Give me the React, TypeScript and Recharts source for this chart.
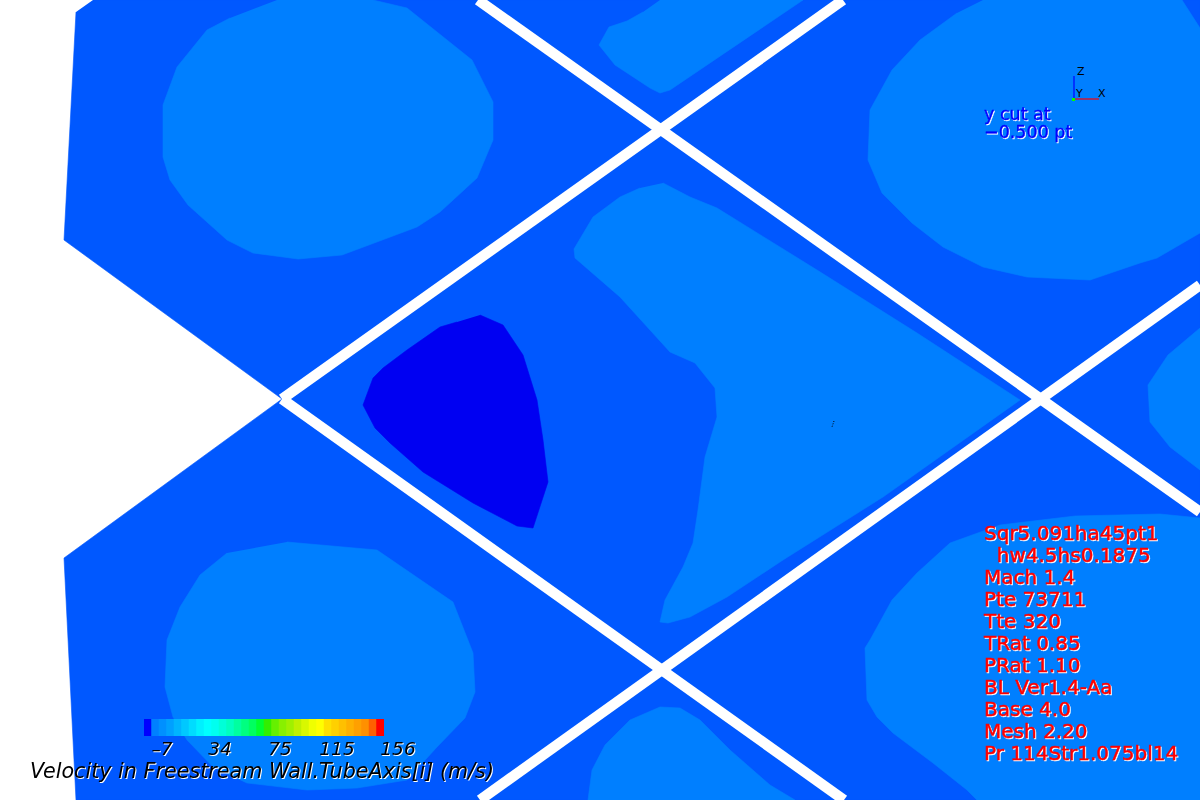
import React from 'react';
import { ScatterChart, Scatter, XAxis, YAxis, BarChart, Bar, Cell } from 'recharts';

// contour levels seen in this cut
const MAIN_BLUE = '#0058ff';
const LIGHT_BLUE = '#007fff';
const DEEP_BLUE = '#0000f2';

// region outlines, in picture units (x right, y down)
const DOMAIN = [[93, 0], [1200, 0], [1200, 800], [76, 800], [64, 558], [282, 399], [64, 240], [76, 12]];

const BLOB_TOP_LEFT = [[277, 0], [373, 0], [407, 8], [472, 60], [493, 102], [493, 140], [477, 178], [440, 212], [417, 227], [342, 255], [298, 259], [253, 253], [227, 240], [188, 205], [170, 180], [163, 157], [163, 105], [177, 67], [207, 30], [230, 18]];
const BLOB_TOP_MID = [[660, 0], [803, 0], [670, 90], [660, 93], [650, 88], [615, 65], [599, 45], [609, 27], [627, 21], [643, 12]];
const BLOB_TOP_RIGHT = [[983, 0], [1182, 0], [1200, 28], [1200, 233], [1157, 258], [1140, 263], [1090, 280], [1027, 277], [983, 267], [943, 247], [912, 223], [882, 193], [868, 160], [870, 110], [892, 70], [920, 40], [957, 13]];
const BLOB_CENTER = [[663, 183], [690, 197], [717, 208], [817, 270], [917, 333], [1020, 400], [883, 497], [783, 560], [727, 597], [690, 617], [668, 623], [660, 622], [665, 600], [683, 567], [693, 543], [698, 510], [705, 457], [717, 417], [715, 388], [695, 363], [670, 352], [620, 297], [575, 258], [574, 249], [593, 217], [620, 197], [640, 188]];
const BLOB_RIGHT = [[1200, 328], [1168, 355], [1148, 385], [1150, 422], [1170, 447], [1200, 470]];
const BLOB_BOTTOM_RIGHT = [[1200, 518], [1160, 514], [1075, 516], [1000, 525], [950, 543], [917, 573], [892, 600], [870, 640], [865, 648], [867, 700], [877, 717], [893, 733], [933, 763], [967, 790], [977, 800], [1200, 800]];
const BLOB_BOTTOM_LEFT = [[287, 542], [377, 550], [453, 602], [473, 653], [475, 692], [465, 718], [437, 747], [407, 780], [357, 788], [307, 790], [247, 783], [213, 767], [187, 740], [173, 717], [165, 687], [167, 640], [180, 607], [200, 575], [227, 553]];
const BLOB_BOTTOM_MID = [[588, 800], [592, 770], [605, 745], [630, 720], [660, 707], [680, 708], [700, 720], [730, 750], [770, 785], [795, 800]];
const BLOB_DEEP = [[480, 315], [503, 325], [523, 355], [537, 400], [543, 440], [548, 482], [533, 528], [517, 526], [473, 503], [423, 472], [390, 443], [375, 428], [363, 405], [373, 378], [383, 368], [407, 350], [440, 327], [457, 322]];

// tube walls (white gaps)
const WALLS = [
  [[478, 0], [1200, 512]],
  [[843, 0], [282, 399]],
  [[282, 399], [844, 800]],
  [[480, 800], [1200, 285]],
];

// axis triad
const TRIAD_Z = [[1074, 76], [1074, 99]];
const TRIAD_X = [[1074, 99], [1099, 99]];
const PROBE_MARK = [[834, 421], [832, 427]];

// legend
const COLORBAR = [
  '#0000ff', '#0080ff', '#0090ff', '#00a0ff', '#00b4ff', '#00c8ff', '#00dcff', '#00f0ff',
  '#00ffff', '#00fff0', '#00ffd8', '#00ffc0', '#00ffa0', '#00ff80', '#00ff60', '#00ff30',
  '#33ee00', '#66f000', '#88f000', '#a0f000', '#c0f000', '#d8f800', '#f0ff00', '#ffff00',
  '#ffe000', '#ffd000', '#ffc000', '#ffb000', '#ffa000', '#ff9000', '#ff6000', '#ff0000',
];
const COLORBAR_TICKS = ['\u20137', '34', '75', '115', '156'];
const COLORBAR_TICK_X = [162, 220, 280, 337, 398];

const CASE_LINES = [
  'Sqr5.091ha45pt1',
  '  hw4.5hs0.1875',
  'Mach 1.4',
  'Pte 73711',
  'Tte 320',
  'TRat 0.85',
  'PRat 1.10',
  'BL Ver1.4-Aa',
  'Base 4.0',
  'Mesh 2.20',
  'Pr 114Str1.075bl14',
];
const CUT_LINES = ['y cut at', '\u22120.500 pt'];
const TITLE = 'Velocity in Freestream Wall.TubeAxis[i] (m/s)';

const FONT = '"DejaVu Sans", sans-serif';
const HALO = 'drop-shadow(1px 1px 0 #ffffff)';

const pts = (a: number[][]) => a.map(([x, y]) => ({ x, y }));
const noDot = () => <g />;

const region = (key: string, data: number[][], fill: string) => (
  <Scatter
    key={key}
    data={pts(data)}
    line={{ fill, stroke: fill, strokeWidth: 0.6 }}
    lineType="joint"
    shape={noDot}
    isAnimationActive={false}
  />
);

const stroke = (key: string, data: number[][], color: string, width: number, dash?: string) => (
  <Scatter
    key={key}
    data={pts(data)}
    line={{ fill: 'none', stroke: color, strokeWidth: width, strokeDasharray: dash }}
    lineType="joint"
    shape={noDot}
    isAnimationActive={false}
  />
);

function HaloText({ x, y, fill, size, italic, anchor, weight, children }: any) {
  return (
    <text
      x={x}
      y={y}
      fill={fill}
      stroke={fill}
      strokeWidth={weight ?? 0}
      textAnchor={anchor ?? 'start'}
      fontFamily={FONT}
      fontSize={size}
      fontStyle={italic ? 'italic' : 'normal'}
      style={{ whiteSpace: 'pre', filter: HALO }}
    >
      {children}
    </text>
  );
}

export default function App() {
  const colorData = COLORBAR.map((c, i) => ({ level: i, span: 1 }));

  return (
    <div style={{ position: 'absolute', left: 0, top: 0, width: 1200, height: 800, background: '#fff', overflow: 'hidden' }}>
      <ScatterChart width={1200} height={800} margin={{ top: 0, right: 0, bottom: 0, left: 0 }}>
        <XAxis type="number" dataKey="x" domain={[0, 1200]} hide />
        <YAxis type="number" dataKey="y" domain={[0, 800]} reversed hide />
        {region('domain', DOMAIN, MAIN_BLUE)}
        {region('tl', BLOB_TOP_LEFT, LIGHT_BLUE)}
        {region('tm', BLOB_TOP_MID, LIGHT_BLUE)}
        {region('tr', BLOB_TOP_RIGHT, LIGHT_BLUE)}
        {region('c', BLOB_CENTER, LIGHT_BLUE)}
        {region('r', BLOB_RIGHT, LIGHT_BLUE)}
        {region('br', BLOB_BOTTOM_RIGHT, LIGHT_BLUE)}
        {region('bl', BLOB_BOTTOM_LEFT, LIGHT_BLUE)}
        {region('bm', BLOB_BOTTOM_MID, LIGHT_BLUE)}
        {region('deep', BLOB_DEEP, DEEP_BLUE)}
        {WALLS.map((w, i) => stroke(`wall-${i}`, w, '#ffffff', 10.5))}
        {stroke('tz', TRIAD_Z, '#0000ff', 1.2)}
        {stroke('tx', TRIAD_X, '#ff0000', 1.2)}
        {stroke('probe', PROBE_MARK, '#000000', 1, '1 1.5')}
      </ScatterChart>

      <div style={{ position: 'absolute', left: 144, top: 719 }}>
        <BarChart width={240} height={17} data={colorData} margin={{ top: 0, right: 0, bottom: 0, left: 0 }} barCategoryGap={0} barGap={0}>
          <XAxis dataKey="level" hide />
          <YAxis domain={[0, 1]} hide />
          <Bar dataKey="span" isAnimationActive={false}>
            {colorData.map((d, i) => (
              <Cell key={`cb-${i}`} fill={COLORBAR[i]} stroke={COLORBAR[i]} strokeWidth={0.5} />
            ))}
          </Bar>
        </BarChart>
      </div>

      <svg width={1200} height={800} style={{ position: 'absolute', left: 0, top: 0, pointerEvents: 'none' }}>
        <rect x={1072} y={98} width={3} height={3} fill="#00ff00" />
        <text x={1077} y={75} fontFamily={FONT} fontSize={11} fill="#000">Z</text>
        <text x={1076} y={97} fontFamily={FONT} fontSize={11} fill="#000">Y</text>
        <text x={1098} y={97} fontFamily={FONT} fontSize={11} fill="#000">X</text>

        {CUT_LINES.map((t, i) => (
          <HaloText key={t} x={984} y={120 + i * 18} fill="#0000ff" size={17.5} weight={0.35}>{t}</HaloText>
        ))}

        {CASE_LINES.map((t, i) => (
          <HaloText key={t} x={984} y={540 + i * 22} fill="#ff0000" size={20} weight={0.45}>{t}</HaloText>
        ))}

        {COLORBAR_TICKS.map((t, i) => (
          <HaloText key={t} x={COLORBAR_TICK_X[i]} y={755} fill="#000000" size={18.5} italic anchor="middle">{t}</HaloText>
        ))}

        <HaloText x={30} y={778} fill="#000000" size={20.7} italic>{TITLE}</HaloText>
      </svg>
    </div>
  );
}
